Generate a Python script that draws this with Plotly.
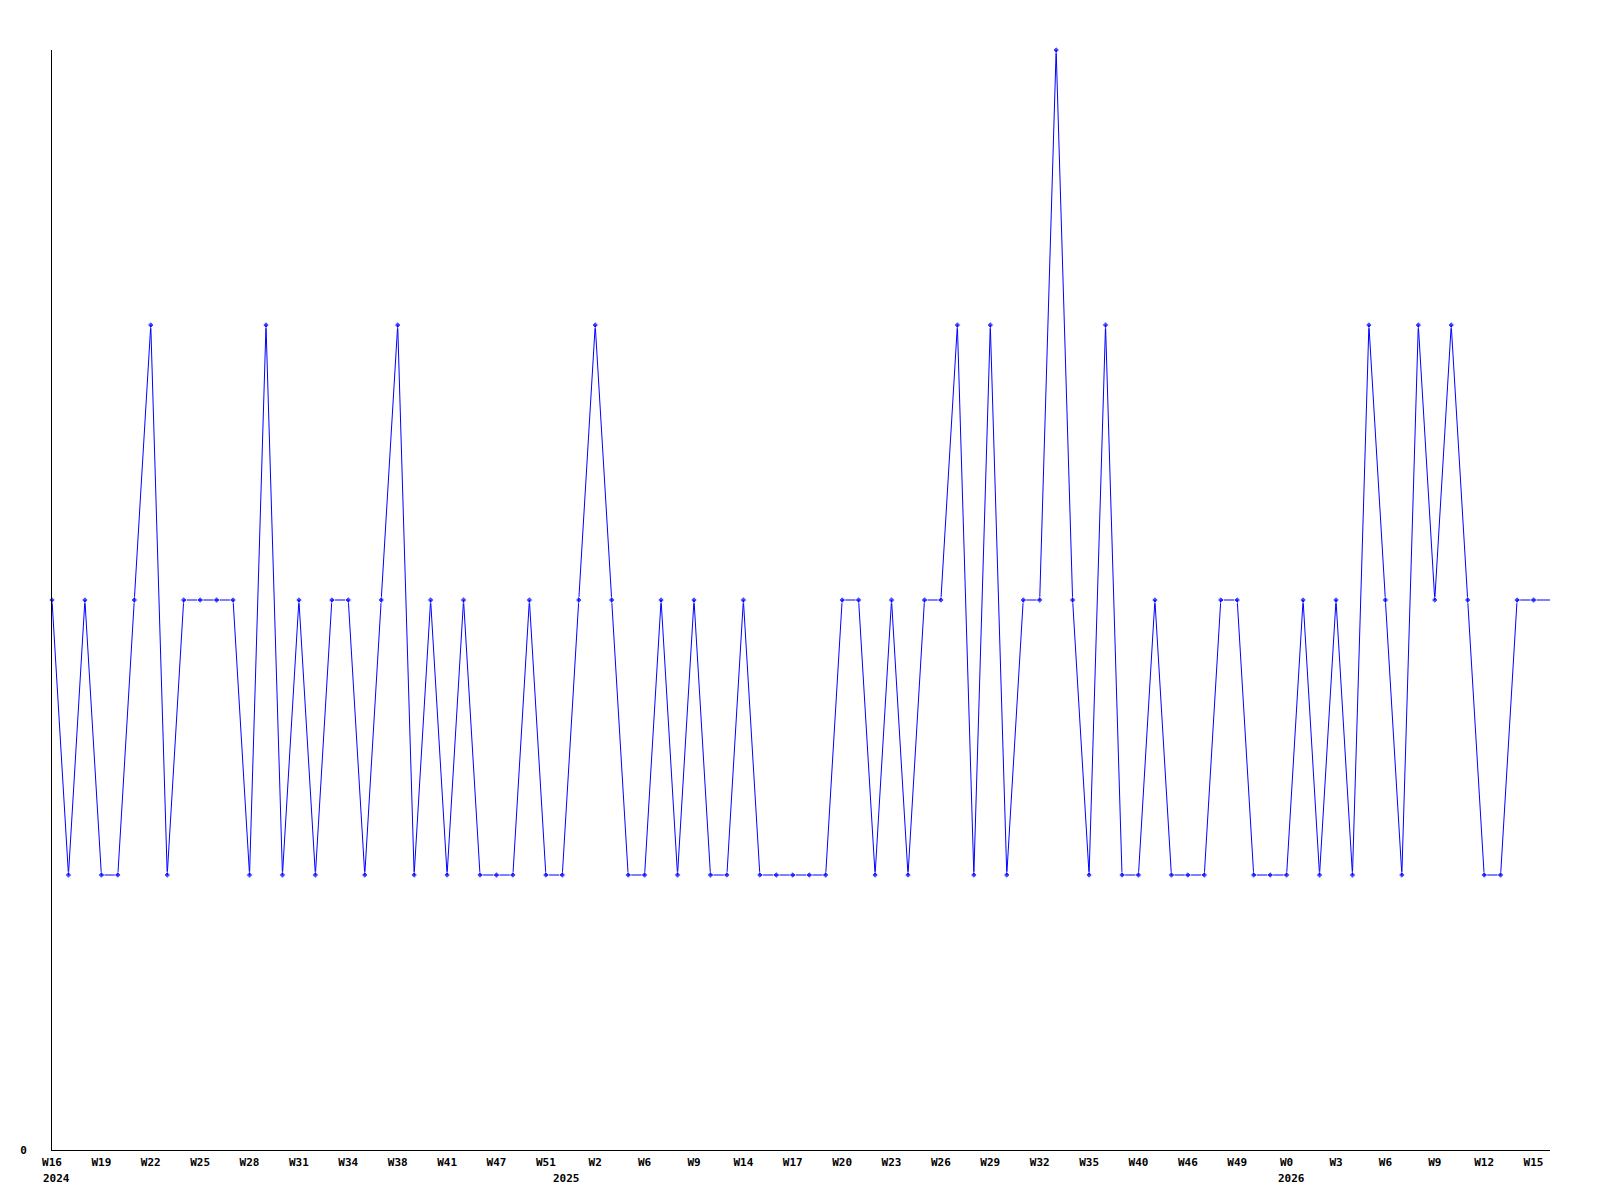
import plotly.graph_objects as go

# Weekly values (index = week position on the axis)
values = [2, 1, 2, 1, 1, 2, 3, 1, 2, 2, 2, 2, 1, 3, 1, 2, 1, 2, 2, 1,
          2, 3, 1, 2, 1, 2, 1, 1, 1, 2, 1, 1, 2, 3, 2, 1, 1, 2, 1, 2,
          1, 1, 2, 1, 1, 1, 1, 1, 2, 2, 1, 2, 1, 2, 2, 3, 1, 3, 1, 2,
          2, 4, 2, 1, 3, 1, 1, 2, 1, 1, 1, 2, 2, 1, 1, 1, 2, 1, 2, 1,
          3, 2, 1, 3, 2, 3, 2, 1, 1, 2, 2, 2]
positions = list(range(len(values)))

tick_positions = list(range(0, 91, 3))
tick_labels = ["W16", "W19", "W22", "W25", "W28", "W31", "W34", "W38", "W41", "W47",
               "W51", "W2", "W6", "W9", "W14", "W17", "W20", "W23", "W26", "W29",
               "W32", "W35", "W40", "W46", "W49", "W0", "W3", "W6", "W9", "W12", "W15"]

year_positions = [0, 31, 75]
year_labels = ["2024", "2025", "2026"]

marker_sizes = [5] * (len(values) - 1) + [0]

FONT = "DejaVu Sans Mono"

fig = go.Figure()
fig.add_trace(go.Scatter(
    x=positions, y=values, mode="lines+markers",
    line=dict(color="#0000FF", width=1),
    marker=dict(color="#0000FF", size=marker_sizes, symbol="diamond"),
    cliponaxis=False, showlegend=False, hoverinfo="skip",
))

for p, lab in zip(year_positions, year_labels):
    fig.add_annotation(x=p, y=0, xref="x", yref="y", text=lab, showarrow=False,
                       xanchor="left", yanchor="middle", xshift=-11, yshift=-28,
                       font=dict(family=FONT, size=11, color="black", weight="bold"))

fig.update_layout(
    width=1600, height=1200,
    margin=dict(l=42, r=58, t=42, b=58),
    paper_bgcolor="white", plot_bgcolor="white",
    xaxis=dict(range=[0, 91], tickvals=tick_positions, ticktext=tick_labels,
               showgrid=False, zeroline=False, showline=True, linecolor="black",
               linewidth=1, ticks="", ticklabelstandoff=2,
               tickfont=dict(family=FONT, size=11, color="black", weight="bold")),
    yaxis=dict(range=[0, 4], tickvals=[0], ticktext=["0"],
               showgrid=False, zeroline=False, showline=True, linecolor="black",
               linewidth=1, ticks="", ticklabelstandoff=22,
               tickfont=dict(family=FONT, size=11, color="black", weight="bold")),
)

fig.write_html("out.html")
